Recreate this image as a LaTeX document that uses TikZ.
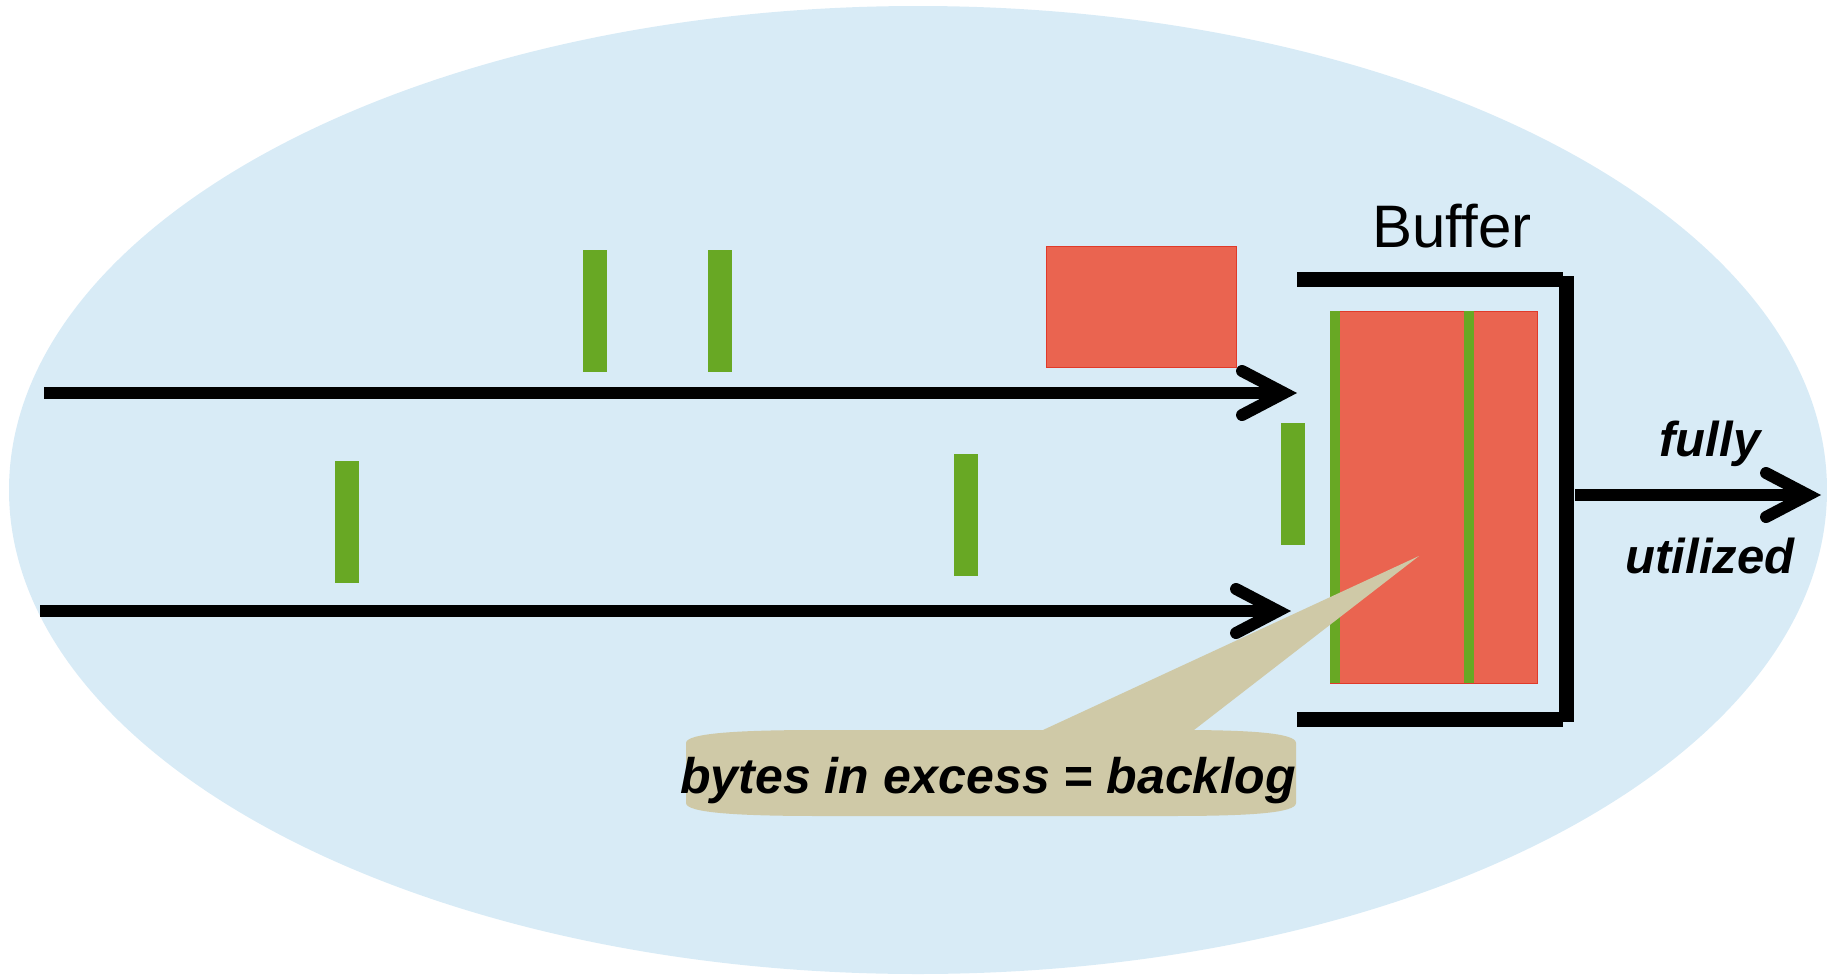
\documentclass[tikz,border=0pt]{standalone}
\usepackage{fontspec}
\setmainfont{Liberation Sans}
\usetikzlibrary{arrows.meta}
\definecolor{bgblue}{HTML}{D8EBF6}
\definecolor{pktgreen}{HTML}{68A824}
\definecolor{burstred}{HTML}{EA6450}
\definecolor{burstedge}{HTML}{E03A2A}
\definecolor{calloutfill}{HTML}{CFC9A7}
\begin{document}
\begin{tikzpicture}[x=0.5pt,y=-0.5pt,
  flow/.style={line width=6pt,
    -{Straight Barb[length=21pt,width=22pt,line cap=round,line join=miter]}},
  pkt/.style={fill=pktgreen, draw=none, inner sep=0pt, minimum width=12pt, minimum height=61pt},
  burst/.style={fill=burstred, draw=burstedge, line width=0.5pt, inner sep=0pt},
  stripe/.style={fill=pktgreen, draw=none, inner sep=0pt, minimum width=5pt, minimum height=186pt},
  wall/.style={line width=7.5pt},
  label/.style={font=\fontsize{24.5pt}{28pt}\selectfont\bfseries\itshape, inner sep=0pt}]
\useasboundingbox (0,0) rectangle (1827,975);

% background
\fill[bgblue] (918,490) ellipse [x radius=454.5pt, y radius=242pt];

% input links
\coordinate (in1s) at (44,393);
\coordinate (in1e) at (1297,393);
\coordinate (in2s) at (40,611);
\coordinate (in2e) at (1291,611);
\draw[flow] (in1s) -- (in1e);
\draw[flow] (in2s) -- (in2e);

% packets in flight
\node[pkt] (p1) at (595,311) {};
\node[pkt] (p2) at (720,311) {};
\node[pkt] (p3) at (347,522) {};
\node[pkt] (p4) at (966,515) {};
\node[pkt] (p5) at (1293,484) {};
\node[burst, minimum width=95pt, minimum height=60.5pt] (b1) at (1141,306.5) {};

% buffer contents
\node[burst, minimum width=103.5pt, minimum height=186pt] (q) at (1433.5,497) {};
\node[stripe] (s1) at (1335,497) {};
\node[stripe] (s2) at (1469,497) {};

% buffer walls
\draw[wall] (1297,279) -- (1563,279);
\draw[wall] (1297,719) -- (1563,719);
\draw[wall] (1566,276) -- (1566,722);
\node[font=\fontsize{30pt}{34pt}\selectfont, anchor=base, inner sep=0pt] (buf) at (1452,247) {Buffer};

% output link
\coordinate (outs) at (1575,495);
\coordinate (oute) at (1821,495);
\draw[flow] (outs) -- (oute);
\node[label, anchor=base] (fully) at (1710,456) {fully};
\node[label, anchor=base] (util) at (1710,573) {utilized};

% callout
\coordinate (tip) at (1419,556);
\fill[calloutfill] (686,743) .. controls (686,733) and (740,730) .. (820,730)
  -- (1043,730) -- (tip) -- (1194,730) -- (1180,730)
  .. controls (1250,730) and (1296,733) .. (1296,743)
  -- (1296,803) .. controls (1296,813) and (1250,816) .. (1170,816)
  -- (820,816) .. controls (740,816) and (686,813) .. (686,803) -- cycle;
\node[font=\fontsize{25pt}{29pt}\selectfont\bfseries\itshape, anchor=base, inner sep=0pt] (note) at (988,793) {bytes in excess = backlog};
\end{tikzpicture}
\end{document}
